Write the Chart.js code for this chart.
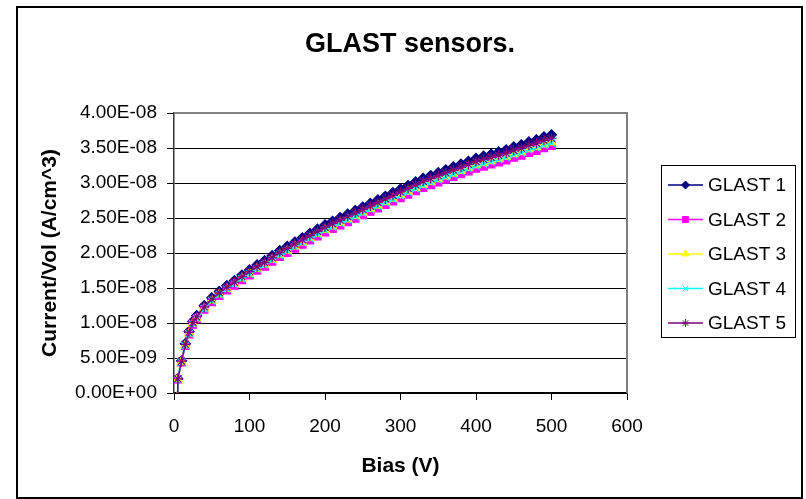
<!DOCTYPE html>
<html>
<head>
<meta charset="utf-8">
<title>GLAST sensors.</title>
<script src="https://cdn.jsdelivr.net/npm/chart.js@4.4.1/dist/chart.umd.min.js"></script>
<style>
  html, body { margin: 0; padding: 0; background: #fff; }
  canvas { display: block; }
</style>
</head>
<body>
<canvas id="glastChart" width="806" height="499"></canvas>
<script>
// Bias voltage (V)
const bias = [4, 5, 10, 15, 20, 25, 30, 40, 50, 60, 70, 80, 90, 100,
  110, 120, 130, 140, 150, 160, 170, 180, 190, 200, 210, 220, 230, 240, 250,
  260, 270, 280, 290, 300, 310, 320, 330, 340, 350, 360, 370, 380, 390, 400,
  410, 420, 430, 440, 450, 460, 470, 480, 490, 500];

// Current/Vol in units of 1e-8 A/cm^3
const glast1 = [-0.06, 0.204, 0.460, 0.705, 0.879, 1.022, 1.104, 1.247, 1.359, 1.451, 1.533, 1.605, 1.686, 1.758,
  1.829, 1.891, 1.962, 2.034, 2.095, 2.156, 2.218, 2.279, 2.340, 2.402, 2.453, 2.504, 2.555, 2.606, 2.657,
  2.708, 2.759, 2.811, 2.862, 2.913, 2.964, 3.015, 3.066, 3.107, 3.148, 3.189, 3.230, 3.270, 3.311, 3.352,
  3.383, 3.413, 3.444, 3.475, 3.516, 3.546, 3.587, 3.618, 3.659, 3.689];
const glast2 = [-0.06, 0.196, 0.440, 0.675, 0.841, 0.978, 1.056, 1.193, 1.301, 1.389, 1.467, 1.535, 1.614, 1.682,
  1.751, 1.809, 1.878, 1.946, 2.005, 2.064, 2.122, 2.181, 2.240, 2.298, 2.347, 2.396, 2.445, 2.494, 2.543,
  2.592, 2.641, 2.690, 2.738, 2.787, 2.836, 2.885, 2.934, 2.973, 3.012, 3.051, 3.090, 3.130, 3.169, 3.208,
  3.237, 3.267, 3.296, 3.325, 3.364, 3.394, 3.433, 3.462, 3.501, 3.531];
const glast3 = [-0.06, 0.198, 0.446, 0.684, 0.853, 0.992, 1.071, 1.210, 1.319, 1.409, 1.488, 1.557, 1.637, 1.706,
  1.776, 1.835, 1.905, 1.974, 2.034, 2.093, 2.153, 2.212, 2.272, 2.331, 2.381, 2.430, 2.480, 2.530, 2.579,
  2.629, 2.678, 2.728, 2.778, 2.827, 2.877, 2.926, 2.976, 3.016, 3.055, 3.095, 3.135, 3.174, 3.214, 3.254,
  3.284, 3.313, 3.343, 3.373, 3.412, 3.442, 3.482, 3.512, 3.551, 3.581];
const glast4 = [-0.06, 0.198, 0.445, 0.682, 0.851, 0.989, 1.068, 1.207, 1.315, 1.404, 1.484, 1.553, 1.632, 1.701,
  1.770, 1.830, 1.899, 1.968, 2.027, 2.087, 2.146, 2.205, 2.265, 2.324, 2.374, 2.423, 2.473, 2.522, 2.571,
  2.621, 2.670, 2.720, 2.769, 2.819, 2.868, 2.918, 2.967, 3.007, 3.046, 3.086, 3.125, 3.165, 3.204, 3.244,
  3.274, 3.303, 3.333, 3.363, 3.402, 3.432, 3.471, 3.501, 3.541, 3.570];
const glast5 = [-0.06, 0.202, 0.454, 0.696, 0.867, 1.008, 1.089, 1.230, 1.341, 1.431, 1.512, 1.583, 1.663, 1.734,
  1.804, 1.865, 1.935, 2.006, 2.066, 2.127, 2.187, 2.248, 2.308, 2.369, 2.419, 2.470, 2.520, 2.570, 2.621,
  2.671, 2.722, 2.772, 2.822, 2.873, 2.923, 2.974, 3.024, 3.064, 3.105, 3.145, 3.185, 3.226, 3.266, 3.306,
  3.336, 3.367, 3.397, 3.427, 3.468, 3.498, 3.538, 3.568, 3.609, 3.639];

const seriesNames = ['GLAST 1', 'GLAST 2', 'GLAST 3', 'GLAST 4', 'GLAST 5'];
const seriesData = [glast1, glast2, glast3, glast4, glast5];
const seriesColors = ['#000080', '#FF00FF', '#FFFF00', '#00FFFF', '#800080'];
const seriesMarkers = ['rectRot', 'rect', 'triangle', 'crossRot', 'star'];
const markerRadius = [5, 5.2, 5, 5, 5];
const legendRadius = [4, 4.2, 4, 4, 4];

const FONT = '"Liberation Sans", Arial, sans-serif';

// 0.00E+00 style labels, like the spreadsheet
function sciLabel(v) {
    const parts = Number(v).toExponential(2).split('e');
    const exp = parseInt(parts[1], 10);
    return parts[0] + 'E' + (exp < 0 ? '-' : '+') + String(Math.abs(exp)).padStart(2, '0');
}

const datasets = seriesNames.map((name, i) => ({
    label: name,
    data: bias.map((v, j) => ({ x: v, y: seriesData[i][j] * 1e-8 })),
    showLine: true,
    borderColor: seriesColors[i],
    backgroundColor: seriesColors[i],
    borderWidth: 1.5,
    pointStyle: seriesMarkers[i],
    pointRadius: markerRadius[i],
    pointBorderWidth: 1.2,
    pointBorderColor: seriesColors[i],
    pointBackgroundColor: seriesColors[i],
    order: seriesNames.length - i   // last series painted on top
}));

// white page + outer frame
const frame = {
    id: 'frame',
    beforeDraw(chart) {
        const c = chart.ctx;
        c.save();
        c.fillStyle = '#fff';
        c.fillRect(0, 0, chart.width, chart.height);
        c.strokeStyle = '#000';
        c.lineWidth = 2;
        c.strokeRect(17, 7, 785, 491);
        c.restore();
    },
    beforeDatasetsDraw(chart) {
        const a = chart.chartArea;
        const c = chart.ctx;
        c.save();
        c.strokeStyle = '#808080';
        c.lineWidth = 2;
        c.beginPath();
        c.moveTo(a.left, a.top);
        c.lineTo(a.right, a.top);
        c.lineTo(a.right, a.bottom);
        c.stroke();
        c.restore();
    }
};

// boxed legend on the right
const boxLegend = {
    id: 'boxLegend',
    afterDraw(chart) {
        const c = chart.ctx;
        c.save();
        c.strokeStyle = '#000';
        c.lineWidth = 1;
        c.strokeRect(661.5, 165.5, 134, 172);
        c.font = '19px ' + FONT;
        c.textAlign = 'left';
        c.textBaseline = 'middle';
        chart.data.datasets.forEach((ds, i) => {
            const y = 185 + i * 34.5;
            c.strokeStyle = ds.borderColor;
            c.lineWidth = 1.5;
            c.beginPath();
            c.moveTo(668, y);
            c.lineTo(703, y);
            c.stroke();
            c.fillStyle = ds.backgroundColor;
            c.lineWidth = 1;
            Chart.helpers.drawPoint(c, { pointStyle: ds.pointStyle, radius: legendRadius[i], rotation: 0, borderWidth: 1 }, 685.5, y);
            c.fillStyle = '#000';
            c.fillText(ds.label, 708, y + 1);
        });
        c.restore();
    }
};

new Chart(document.getElementById('glastChart'), {
    type: 'scatter',
    data: { datasets: datasets },
    options: {
        responsive: false,
        animation: false,
        devicePixelRatio: 1,
        layout: { padding: { left: 14, right: 0, top: 0, bottom: 0 } },
        plugins: {
            legend: { display: false },
            tooltip: { enabled: false },
            title: {
                display: true,
                text: 'GLAST sensors.',
                color: '#000',
                font: { family: FONT, size: 27, weight: 'bold' },
                padding: { top: 28, bottom: 52.6 }
            }
        },
        scales: {
            x: {
                type: 'linear',
                position: 'bottom',
                min: 0,
                max: 600,
                ticks: { stepSize: 100, color: '#000', padding: 15, font: { family: FONT, size: 19 } },
                grid: { drawOnChartArea: false, drawTicks: true, tickLength: 7, color: '#000' },
                border: { display: true, color: '#000', width: 1.5 },
                title: {
                    display: true,
                    text: 'Bias (V)',
                    color: '#000',
                    font: { family: FONT, size: 21, weight: 'bold' },
                    padding: { top: 0, bottom: 20.4 }
                },
                afterFit(scale) {
                    scale.height = 106;
                    scale.paddingLeft = 0;
                    scale.paddingRight = 0;
                }
            },
            y: {
                type: 'linear',
                position: 'left',
                min: 0,
                max: 4e-8,
                ticks: {
                    stepSize: 5e-9,
                    color: '#000',
                    padding: 10,
                    font: { family: FONT, size: 19 },
                    callback: (v) => sciLabel(v)
                },
                grid: { color: '#000', lineWidth: 1, tickLength: 7 },
                border: { display: true, color: '#333', width: 1.5 },
                title: {
                    display: true,
                    text: 'Current/Vol (A/cm^3)',
                    color: '#000',
                    font: { family: FONT, size: 21, weight: 'bold' },
                    padding: { top: 23.4, bottom: 0 }
                },
                afterFit(scale) {
                    scale.width = 160;
                    scale.paddingTop = 0;
                    scale.paddingBottom = 0;
                }
            },
            // empty right-hand band that holds the legend
            legendSpace: {
                type: 'linear',
                position: 'right',
                display: true,
                ticks: { display: false },
                grid: { display: false },
                border: { display: false },
                afterFit(scale) {
                    scale.width = 179;
                    scale.paddingTop = 0;
                    scale.paddingBottom = 0;
                }
            }
        }
    },
    plugins: [frame, boxLegend]
});
</script>
</body>
</html>
